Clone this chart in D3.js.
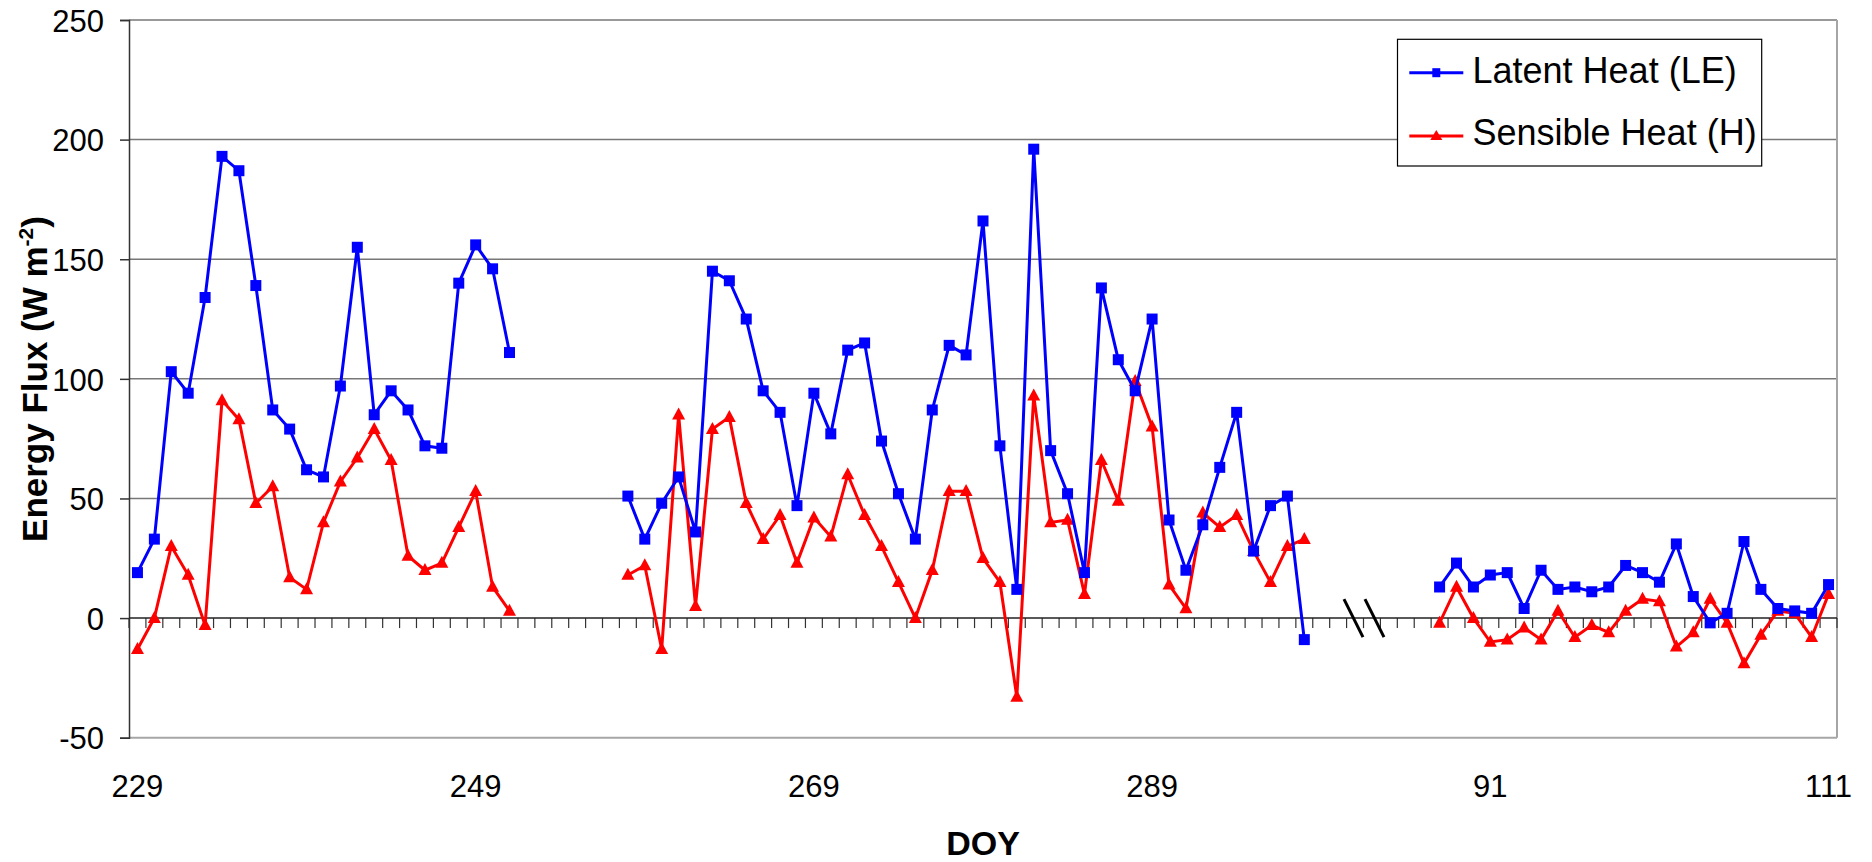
<!DOCTYPE html>
<html>
<head>
<meta charset="utf-8">
<script src="https://cdn.jsdelivr.net/npm/d3@7"></script>
<style>
  html, body { margin: 0; padding: 0; background: #fff; }
  svg { display: block; }
  text { font-family: "Liberation Sans", Arial, sans-serif; }
</style>
</head>
<body>
<svg id="chart" width="1872" height="862"></svg>
<script>
// Category axis: day of year (first season, then following spring)
const categories = [
  229,230,231,232,233,234,235,236,237,238,239,240,241,242,243,244,245,246,247,248,
  249,250,251,252,253,254,255,256,257,258,259,260,261,262,263,264,265,266,267,268,
  269,270,271,272,273,274,275,276,277,278,279,280,281,282,283,284,285,286,287,288,
  289,290,291,292,293,294,295,296,297,298,299,300,301,
  84,85,86,87,88,89,90,91,92,93,94,95,96,97,98,99,100,101,102,103,104,105,106,107,108,109,110,111
];
const tickLabels = [229, 249, 269, 289, 91, 111];

// Latent Heat (LE), W m-2
const latentHeat = [
  19, 33, 103, 94, 134, 193, 187, 139, 87, 79, 62, 59, 97, 155, 85, 95, 87, 72, 71, 140, 156, 146, 111,
  null, null, null, null, null, null,
  51, 33, 48, 59, 36, 145, 141, 125, 95, 86, 47, 94, 77, 112, 115, 74, 52, 33, 87, 114,
  110, 166, 72, 12, 196, 70, 52, 19, 138, 108, 95, 125, 41, 20, 39, 63, 86, 28, 47, 51, -9,
  null, null, null, null, null, null, null,
  13, 23, 13, 18, 19, 4, 20, 12, 13, 11, 13, 22, 19, 15, 31, 9, -2, 2, 32, 12, 4, 3, 2, 14
];

// Sensible Heat (H), W m-2
const sensibleHeat = [
  -13, 0, 30, 18, -3, 91, 83, 48, 55, 17, 12, 40, 57, 67, 79, 66, 26, 20, 23, 38, 53, 13, 3,
  null, null, null, null, null, null,
  18, 22, -13, 85, 5, 79, 84, 48, 33, 43, 23, 42, 34, 60, 43, 30, 15, 0, 20, 53,
  53, 25, 15, -33, 93, 40, 41, 10, 66, 49, 99, 80, 14, 4, 44, 38, 43, 28, 15, 30, 33,
  null, null, null, null, null, null, null,
  -2, 13, 0, -10, -9, -4, -9, 3, -8, -3, -6, 3, 8, 7, -12, -6, 8, -2, -19, -7, 3, 2, -8, 10
];

const yTicks = [-50, 0, 50, 100, 150, 200, 250];
const seriesNames = ["Latent Heat (LE)", "Sensible Heat (H)"];

const svg = d3.select("#chart");
const plotLeft = 129, plotRight = 1837, plotTop = 20, plotBottom = 737.7;

const x = d3.scaleBand().domain(categories).range([plotLeft, plotRight]).padding(0);
const y = d3.scaleLinear().domain([-50, 250]).range([plotBottom, plotTop]);
const bw = x.bandwidth();
const cx = c => x(c) + bw / 2;

// gridlines
svg.append("g").selectAll("line")
  .data(yTicks.filter(v => v > 0))
  .join("line")
  .attr("x1", plotLeft).attr("x2", plotRight)
  .attr("y1", d => y(d)).attr("y2", d => y(d))
  .attr("stroke", "#777").attr("stroke-width", 1.5);

// plot border (right and bottom)
svg.append("line").attr("x1", plotRight).attr("x2", plotRight).attr("y1", y(250)).attr("y2", y(-50))
  .attr("stroke", "#a6a6a6").attr("stroke-width", 2);
svg.append("line").attr("x1", plotLeft).attr("x2", plotRight).attr("y1", y(-50)).attr("y2", y(-50))
  .attr("stroke", "#a6a6a6").attr("stroke-width", 2);

// y axis
const yAxis = svg.append("g")
  .attr("transform", `translate(${plotLeft},0)`)
  .call(d3.axisLeft(y).tickValues(yTicks).tickSize(9).tickPadding(16).tickFormat(d => String(d)));
yAxis.select(".domain").attr("stroke", "#333").attr("stroke-width", 1.5);
yAxis.selectAll(".tick line").attr("stroke", "#333").attr("stroke-width", 1.5);
yAxis.selectAll(".tick text")
  .attr("font-family", "'Liberation Sans', Arial, sans-serif")
  .attr("font-size", 31).attr("fill", "#000").attr("dy", "0.36em");

// category axis at zero with tick marks between categories
const boundaries = categories.map(c => x(c)).concat([plotRight]);
svg.append("g").selectAll("line")
  .data(boundaries)
  .join("line")
  .attr("x1", d => d).attr("x2", d => d)
  .attr("y1", y(0)).attr("y2", y(0) + 10)
  .attr("stroke", "#333").attr("stroke-width", 1.2);
svg.append("line").attr("x1", plotLeft).attr("x2", plotRight).attr("y1", y(0)).attr("y2", y(0))
  .attr("stroke", "#222").attr("stroke-width", 1.5);

// category labels
svg.append("g").selectAll("text")
  .data(tickLabels)
  .join("text")
  .attr("x", d => cx(d)).attr("y", 797)
  .attr("text-anchor", "middle")
  .attr("font-size", 31)
  .text(d => d);

// axis break marks between the two seasons
const breakX = x(84);
[-10, 11].forEach(off => {
  svg.append("line")
    .attr("x1", breakX + off - 9.5).attr("y1", y(0) - 19)
    .attr("x2", breakX + off + 9.5).attr("y2", y(0) + 19)
    .attr("stroke", "#000").attr("stroke-width", 3);
});

// series
const lineGen = d3.line()
  .defined(d => d.v !== null)
  .x(d => cx(d.c))
  .y(d => y(d.v));

const leData = categories.map((c, i) => ({ c, v: latentHeat[i] }));
const hData = categories.map((c, i) => ({ c, v: sensibleHeat[i] }));

const triPath = (w, h) => `M0,${-h * 0.6}L${w / 2},${h * 0.4}L${-w / 2},${h * 0.4}Z`;
const sqPath = (w, h) => `M${-w / 2},${-h / 2}H${w / 2}V${h / 2}H${-w / 2}Z`;

function drawSeries(data, color, marker) {
  svg.append("path").datum(data)
    .attr("d", lineGen)
    .attr("fill", "none").attr("stroke", color).attr("stroke-width", 3)
    .attr("stroke-linejoin", "miter");
  const pts = svg.append("g").selectAll("path")
    .data(data.filter(d => d.v !== null))
    .join("path")
    .attr("transform", d => `translate(${cx(d.c)},${y(d.v)})`)
    .attr("fill", color);
  if (marker === "square") pts.attr("d", sqPath(11, 11));
  else pts.attr("d", triPath(13, 12));
}

drawSeries(hData, "#ff0000", "triangle");
drawSeries(leData, "#0000ff", "square");

// axis titles
svg.append("text")
  .attr("x", (plotLeft + plotRight) / 2).attr("y", 855)
  .attr("text-anchor", "middle")
  .attr("font-size", 34).attr("font-weight", "bold")
  .text("DOY");

const yt = svg.append("text")
  .attr("transform", `translate(46.5,379) rotate(-90)`)
  .attr("text-anchor", "middle")
  .attr("font-size", 35).attr("font-weight", "bold");
yt.append("tspan").text("Energy Flux (W m");
yt.append("tspan").attr("font-size", 21).attr("dy", -14).text("-2");
yt.append("tspan").attr("dy", 14).text(")");

// legend
const lg = svg.append("g");
lg.append("rect").attr("x", 1397.5).attr("y", 39.3).attr("width", 364.2).attr("height", 126.7)
  .attr("fill", "#fff").attr("stroke", "#000").attr("stroke-width", 1.2);
const legendRows = [
  { name: seriesNames[0], color: "#0000ff", marker: "square", y: 72.7, base: 82.8 },
  { name: seriesNames[1], color: "#ff0000", marker: "triangle", y: 136, base: 145.3 }
];
legendRows.forEach(r => {
  lg.append("line").attr("x1", 1409.3).attr("x2", 1463.3).attr("y1", r.y).attr("y2", r.y)
    .attr("stroke", r.color).attr("stroke-width", 3);
  lg.append("path")
    .attr("transform", `translate(1436.3,${r.y})`)
    .attr("d", r.marker === "square" ? sqPath(8, 9) : triPath(12, 10))
    .attr("fill", r.color);
  lg.append("text").attr("x", 1472.5).attr("y", r.base)
    .attr("font-size", 36).text(r.name);
});
</script>
</body>
</html>
